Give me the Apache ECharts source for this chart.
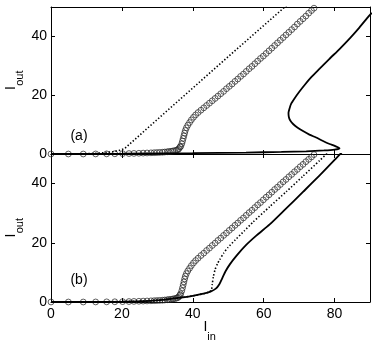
<!DOCTYPE html>
<html>
<head>
<meta charset="utf-8">
<script src="https://cdn.jsdelivr.net/npm/echarts@6/dist/echarts.min.js"></script>
<style>
  html, body { margin: 0; padding: 0; background: #fff; }
  #chart { width: 374px; height: 347px; }
</style>
</head>
<body>
<div id="chart"></div>
<script>
// circles (same sampling in both panels)
const circX = [0, 4.9, 9.1, 12.6, 15.7, 18.0, 20.2, 22.0, 23.4, 24.8, 26.0, 27.1, 28.2, 29.1, 29.9,
  30.7, 31.5, 32.1, 32.8, 33.3, 33.9, 34.4, 34.9, 35.4, 35.8, 36.1, 36.4, 36.6, 36.9, 37.1, 37.3,
  37.5, 37.7, 37.9, 38.2, 38.6, 39.1, 39.6, 40.2, 40.8, 41.5, 42.3, 43.1, 43.9, 44.7, 45.5, 46.3,
  47.1, 47.9, 48.7, 49.5, 50.3, 51.1, 51.9, 52.7, 53.5, 54.3, 55.1, 55.9, 56.7, 57.5, 58.3, 59.1,
  59.9, 60.7, 61.5, 62.3, 63.1, 63.9, 64.7, 65.5, 66.3, 67.1, 67.9, 68.7, 69.5, 70.3, 71.1, 71.9,
  72.7, 73.5, 74.2];
const circTopY = [0, 0, 0, 0.02, 0.05, 0.08, 0.12, 0.16, 0.2, 0.25, 0.3, 0.35, 0.4, 0.45, 0.5,
  0.55, 0.6, 0.68, 0.76, 0.84, 0.93, 1.03, 1.15, 1.3, 1.5, 1.8, 2.4, 2.6, 3.5, 4.4, 5.3,
  6.2, 7.1, 8.0, 8.9, 9.8, 10.7, 11.6, 12.5, 13.3, 14.1, 14.9, 15.7, 16.5, 17.3, 18.1, 18.9,
  19.7, 20.5, 21.3, 22.2, 23.0, 23.8, 24.7, 25.5, 26.4, 27.2, 28.1, 29.0, 29.8, 30.7, 31.6, 32.5,
  33.3, 34.2, 35.1, 36.0, 36.9, 37.8, 38.7, 39.6, 40.5, 41.4, 42.3, 43.2, 44.2, 45.1, 46.0, 46.9,
  47.9, 48.8, 49.6];
const circBotY = [0, 0, 0, 0.02, 0.05, 0.08, 0.12, 0.16, 0.2, 0.25, 0.3, 0.35, 0.4, 0.45, 0.5,
  0.55, 0.6, 0.68, 0.76, 0.84, 0.93, 1.03, 1.15, 1.3, 1.5, 1.8, 2.4, 2.8, 3.8, 4.8, 5.8,
  6.8, 7.8, 8.7, 9.6, 10.5, 11.4, 12.3, 13.2, 14.0, 14.8, 15.7, 16.5, 17.4, 18.2, 19.1, 19.9,
  20.8, 21.6, 22.5, 23.3, 24.2, 25.0, 25.9, 26.7, 27.6, 28.4, 29.3, 30.2, 31.0, 31.9, 32.8, 33.6,
  34.5, 35.4, 36.2, 37.1, 38.0, 38.8, 39.7, 40.6, 41.4, 42.3, 43.1, 44.0, 44.8, 45.7, 46.5, 47.4,
  48.2, 49.0, 49.8];

// panel (a)
const dotTopX = [0, 8, 12, 15, 17.5, 19.5, 20.8, 33.5, 50, 65.4, 66.5];
const dotTopY = [0, 0.05, 0.2, 0.45, 0.8, 1.3, 1.9, 15.5, 33.1, 49.4, 50.6];
const solTopX = [0, 20, 40, 55, 65, 72, 77, 80, 81.4, 80.2, 78.6, 76.6, 74.8, 72.9, 71.1, 69.5,
  68.3, 67.5, 67.1, 67.0, 67.3, 67.8, 68.7, 70, 71.5, 73.5, 75.8, 78.5, 81.4, 84.5, 87, 89.6, 90.5];
const solTopY = [0, 0.1, 0.3, 0.5, 0.7, 0.9, 1.2, 1.5, 1.9, 2.7, 3.4, 4.5, 5.6, 6.6, 7.8, 9,
  10.2, 11.4, 12.6, 14, 15.5, 17.2, 18.9, 21.1, 23.4, 26.2, 29, 32.3, 35.7, 39.6, 43, 46.8, 48];

// panel (b)
const dotBotX = [0, 20, 28, 32, 36, 40, 43, 44.8, 45.3, 45.5, 45.8, 46.3, 47, 47.6, 48.7, 49.9,
  52, 54.5, 57, 61.7, 66.4, 71, 75.8, 78];
const dotBotY = [0, 0.15, 0.4, 0.8, 1.4, 2.1, 2.8, 3.5, 4.2, 6, 8.5, 11, 13, 14.3, 16.5, 18.4,
  21, 24, 27, 32.2, 37.3, 42.4, 47.8, 50.3];
const solBotX = [0, 20, 28, 32, 36, 40, 43, 45, 46.5, 47.5, 48.3, 49.2, 50.5, 52.3, 55, 58, 61.7,
  66, 71.1, 76, 80.5, 82];
const solBotY = [0, 0.15, 0.4, 0.8, 1.4, 2.1, 2.8, 3.5, 4.5, 6, 8, 10.3, 12.8, 15.6, 19.2, 22.5,
  26.2, 31.2, 37.2, 43, 48.6, 50.5];

const zip = (xs, ys) => xs.map((x, i) => [x, ys[i]]);

const chart = echarts.init(document.getElementById('chart'));

const FONT = 'Liberation Sans';
const axisLine = { show: true, onZero: false, lineStyle: { color: '#000', width: 1 } };
const axisTick = { show: true, inside: true, length: 4, lineStyle: { color: '#000' } };

function xAxis(grid, position, labels) {
  return {
    type: 'value', gridIndex: grid, position: position, min: 0, max: 90, interval: 20,
    axisLine: axisLine, axisTick: axisTick, splitLine: { show: false },
    axisLabel: { show: labels, margin: 5, color: '#000', fontSize: 14, fontFamily: FONT, showMaxLabel: false }
  };
}
function yAxis(grid, position, labels) {
  return {
    type: 'value', gridIndex: grid, position: position, min: 0, max: 50, interval: 20,
    axisLine: axisLine, axisTick: axisTick, splitLine: { show: false },
    axisLabel: { show: labels, margin: 4, color: '#000', fontSize: 14, fontFamily: FONT, showMaxLabel: false }
  };
}

// axis titles with subscripts, as text
const txt = (text, x, y, size, align) => ({
  type: 'text', x: x, y: y,
  style: { text: text, font: size + 'px ' + FONT, fill: '#000', align: align, verticalAlign: 'middle' }
});
const yTitle = (cy) => ({
  type: 'group', x: 11.5, y: cy, rotation: Math.PI / 2,
  children: [txt('I', 0, 0, 14, 'center'), txt('out', 2.2, 8.7, 11, 'left')]
});

const circleStyle = { color: 'rgba(0,0,0,0)', borderColor: '#222', borderWidth: 0.9 };
const dotted = { color: '#000', width: 1.6, type: [1.4, 2] };
const solid = { color: '#000', width: 1.8 };

chart.setOption({
  animation: false,
  backgroundColor: '#fff',
  grid: [
    { left: 51, top: 7, width: 319, height: 147 },
    { left: 51, top: 154, width: 319, height: 148 }
  ],
  xAxis: [xAxis(0, 'bottom', false), xAxis(0, 'top', false), xAxis(1, 'bottom', true), xAxis(1, 'top', false)],
  yAxis: [yAxis(0, 'left', true), yAxis(0, 'right', false), yAxis(1, 'left', true), yAxis(1, 'right', false)],
  graphic: [
    txt('(a)', 79, 136.5, 14, 'center'),
    txt('(b)', 79, 280.5, 14, 'center'),
    yTitle(88),
    yTitle(235.5),
    txt('I', 205.5, 327, 14, 'center'),
    txt('in', 207.3, 337.2, 11, 'left')
  ],
  series: [
    { type: 'line', xAxisIndex: 0, yAxisIndex: 0, data: zip(solTopX, solTopY), showSymbol: false, smooth: 0.2, lineStyle: solid },
    { type: 'line', xAxisIndex: 0, yAxisIndex: 0, data: zip(dotTopX, dotTopY), showSymbol: false, lineStyle: dotted },
    { type: 'scatter', xAxisIndex: 0, yAxisIndex: 0, data: zip(circX, circTopY), symbol: 'circle', symbolSize: 5.8, itemStyle: circleStyle },
    { type: 'line', xAxisIndex: 2, yAxisIndex: 2, data: zip(solBotX, solBotY), showSymbol: false, smooth: 0.2, lineStyle: solid },
    { type: 'line', xAxisIndex: 2, yAxisIndex: 2, data: zip(dotBotX, dotBotY), showSymbol: false, smooth: 0.2, lineStyle: dotted },
    { type: 'scatter', xAxisIndex: 2, yAxisIndex: 2, data: zip(circX, circBotY), symbol: 'circle', symbolSize: 5.8, itemStyle: circleStyle }
  ]
});
</script>
</body>
</html>
